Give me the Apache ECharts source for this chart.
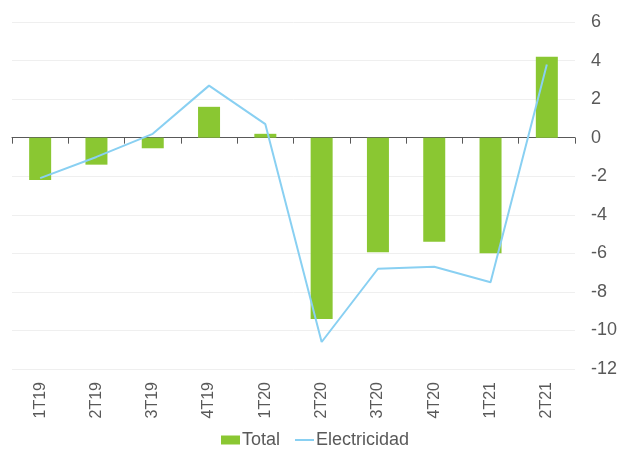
<!DOCTYPE html>
<html>
<head>
<meta charset="utf-8">
<script src="https://cdn.jsdelivr.net/npm/echarts@6/dist/echarts.min.js"></script>
<style>html,body{margin:0;padding:0;background:#fff;}#c{width:620px;height:449px;}</style>
</head>
<body>
<div id="c"></div>
<script>
var categories = ['1T19','2T19','3T19','4T19','1T20','2T20','3T20','4T20','1T21','2T21'];
var totalValues = [-2.2, -1.4, -0.55, 1.6, 0.2, -9.4, -5.95, -5.4, -6.0, 4.2];
var electricidadValues = [-2.1, -1.0, 0.2, 2.7, 0.7, -10.6, -6.8, -6.7, -7.5, 3.8];
var seriesNames = ['Total', 'Electricidad'];

var chart = echarts.init(document.getElementById('c'), null, {renderer: 'canvas'});
var txt = '#595959';
chart.setOption({
  animation: false,
  backgroundColor: '#ffffff',
  grid: {left: 12, right: 43, top: 22, bottom: 80},
  legend: {
    data: [
      {name: seriesNames[0], icon: 'rect'},
      {name: seriesNames[1], itemStyle: {opacity: 0}}
    ],
    top: 426,
    left: 216,
    itemWidth: 19,
    itemHeight: 9,
    itemGap: 14,
    textStyle: {color: txt, fontSize: 18, fontFamily: 'Liberation Sans, Arial, sans-serif', padding: [0, 0, 0, -3]}
  },
  xAxis: [
    {
      type: 'category',
      data: categories,
      position: 'bottom',
      axisLine: {show: true, onZero: true, lineStyle: {color: '#595959', width: 1}},
      axisTick: {show: true, length: 6, lineStyle: {color: '#595959'}},
      axisLabel: {show: false},
      splitLine: {show: false}
    },
    {
      type: 'category',
      data: categories,
      position: 'bottom',
      axisLine: {show: false, onZero: false},
      axisTick: {show: false},
      axisLabel: {show: true, rotate: 90, margin: 13, color: txt, fontSize: 16, fontFamily: 'Liberation Sans, Arial, sans-serif'},
      splitLine: {show: false}
    }
  ],
  yAxis: {
    type: 'value',
    position: 'right',
    min: -12,
    max: 6,
    interval: 2,
    axisLine: {show: false},
    axisTick: {show: false},
    axisLabel: {margin: 16, color: txt, fontSize: 18, fontFamily: 'Liberation Sans, Arial, sans-serif'},
    splitLine: {show: true, lineStyle: {color: '#efefef', width: 1}}
  },
  series: [
    {
      name: seriesNames[0],
      type: 'bar',
      xAxisIndex: 0,
      data: totalValues,
      barWidth: 22,
      itemStyle: {color: '#8AC732'}
    },
    {
      name: seriesNames[1],
      type: 'line',
      xAxisIndex: 0,
      data: electricidadValues,
      symbol: 'none',
      lineStyle: {color: '#89D0F2', width: 2},
      itemStyle: {color: 'rgba(0,0,0,0)'},
      z: 3
    }
  ]
});
</script>
</body>
</html>
